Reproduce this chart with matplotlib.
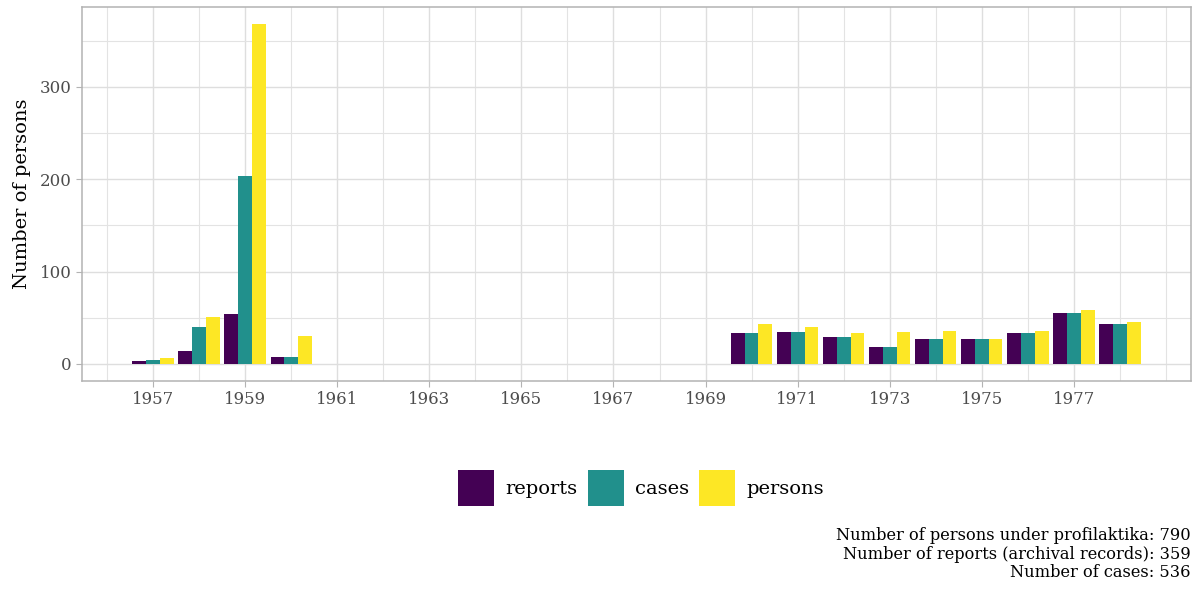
import numpy as np
import matplotlib
matplotlib.use("Agg")
import matplotlib.pyplot as plt
from matplotlib.patches import Patch

plt.rcParams['font.family'] = ['DejaVu Serif']

# datos
years = [1957, 1958, 1959, 1960, 1970, 1971, 1972, 1973, 1974, 1975, 1976, 1977, 1978]
reports = [3, 14, 54, 8, 34, 35, 29, 18, 27, 27, 34, 55, 43]
cases = [4, 40, 203, 8, 34, 35, 29, 18, 27, 27, 34, 55, 43]
persons = [6, 51, 368, 30, 43, 40, 34, 35, 36, 27, 36, 58, 46]

series_names = ["reports", "cases", "persons"]
colores = ["#440154", "#21908C", "#FDE725"]

caption = ("Number of persons under profilaktika: 790\n"
           "Number of reports (archival records): 359\n"
           "Number of cases: 536")

fig = plt.figure(figsize=(11.96, 5.89), dpi=100)
ax = fig.add_axes([82/1196, 1-381/589, (1191-82)/1196, (381-7)/589])

x = np.array(years, dtype=float)
w = 0.9/3
for i, (vals, col) in enumerate(zip([reports, cases, persons], colores)):
    ax.bar(x + (i-1)*w, vals, width=w, color=col, edgecolor='none', zorder=3)

# limites estilo ggplot (expansion 5%)
xmin, xmax = x.min() - 0.45, x.max() + 0.45
dx = (xmax - xmin)*0.05
ax.set_xlim(xmin - dx, xmax + dx)
ymax = max(persons)
ax.set_ylim(-0.05*ymax, ymax*1.05)

ax.set_xticks(np.arange(1957, 1978, 2))
ax.set_xticks(np.arange(1956, 1980, 1), minor=True)
ax.set_yticks([0, 100, 200, 300])
ax.set_yticks([50, 150, 250, 350], minor=True)
ax.grid(which='major', color='#DEDEDE', linewidth=1.0, zorder=0)
ax.grid(which='minor', color='#E3E3E3', linewidth=0.8, zorder=0)
ax.set_axisbelow(True)

for s in ax.spines.values():
    s.set_color('#B3B3B3')
    s.set_linewidth(1.1)
ax.tick_params(which='major', color='#B3B3B3', length=4, width=0.8,
               labelcolor='#4D4D4D', labelsize=12)
ax.tick_params(which='minor', length=0)

ax.set_ylabel("Number of persons", fontsize=14, labelpad=6)

handles = [Patch(facecolor=c, edgecolor='none') for c in colores]
fig.legend(handles, series_names, loc='center', bbox_to_anchor=(0.536, 1-488/589),
           ncol=3, frameon=False, fontsize=14, handlelength=1.85, handleheight=2.4,
           handletextpad=0.55, columnspacing=0.55)

fig.text(1191/1196, 1-527/589, caption, ha='right', va='top', fontsize=11.7,
         linespacing=1.12)

fig.savefig("out.png", dpi=100)
